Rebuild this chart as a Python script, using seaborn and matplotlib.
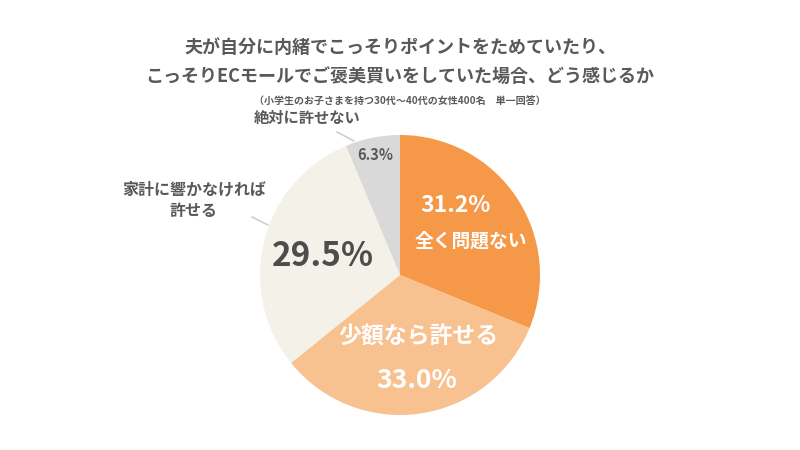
import numpy as np
import matplotlib
matplotlib.use("Agg")
import matplotlib.pyplot as plt
import seaborn as sns

# data
categories = ["全く問題ない", "少額なら許せる", "家計に響かなければ\n許せる", "絶対に許せない"]
shares = [31.2, 33.0, 29.5, 6.3]
colors = ["#F59847", "#F8C190", "#F3F1E8", "#D9D9D9"]

title = "夫が自分に内緒でこっそりポイントをためていたり、\nこっそりECモールでご褒美買いをしていた場合、どう感じるか"
subtitle = "（小学生のお子さまを持つ30代〜40代の女性400名　単一回答）"

sns.set_theme(style="white")
plt.rcParams["font.family"] = ["Noto Sans CJK JP", "DejaVu Sans"]

W, H = 800, 450
fig = plt.figure(figsize=(8, 4.5), dpi=100)
ax = fig.add_axes([0, 0, 1, 1])

cx, cy, r = 400, H - 275, 140
ax.pie(shares, colors=colors, startangle=90, counterclock=False,
       center=(cx, cy), radius=r, frame=True,
       wedgeprops=dict(linewidth=0))
ax.set_xlim(0, W)
ax.set_ylim(0, H)
ax.set_aspect("equal")
ax.axis("off")

dark = "#595959"
pct = [f"{v:.1f}%" for v in shares]

# inside labels (pixel positions, y from top)
ax.text(456, H - 205, pct[0], color="white", fontsize=16.5, fontweight="bold",
        ha="center", va="center")
ax.text(471, H - 241, categories[0], color="white", fontsize=13.5, fontweight="bold",
        ha="center", va="center")
ax.text(418, H - 337, categories[1], color="white", fontsize=16.5, fontweight="bold",
        ha="center", va="center")
ax.text(417, H - 380, pct[1], color="white", fontsize=19, fontweight="bold",
        ha="center", va="center")
ax.text(323, H - 257, pct[2], color="#4D4D4D", fontsize=24, fontweight="bold",
        ha="center", va="center")
ax.text(375, H - 155, pct[3], color=dark, fontsize=10.5, fontweight="bold",
        ha="center", va="center")

# outside labels with leader lines
ax.text(307, H - 118, categories[3], color=dark, fontsize=11, fontweight="bold",
        ha="center", va="center")
ax.plot([337, 354], [H - 132, H - 141], color="#CFCFCF", lw=1.2)
ax.text(194, H - 200, categories[2], color=dark, fontsize=11.5, fontweight="bold",
        ha="center", va="center", linespacing=1.45)
ax.plot([252, 268], [H - 217, H - 225], color="#CFCFCF", lw=1.2)

# titles
ax.text(400, H - 62, title, color=dark, fontsize=13, fontweight="bold",
        ha="center", va="center", linespacing=1.65)
ax.text(400, H - 101, subtitle, color=dark, fontsize=7.2, fontweight="bold",
        ha="center", va="center")

fig.savefig("out.png", dpi=100, facecolor="white")
